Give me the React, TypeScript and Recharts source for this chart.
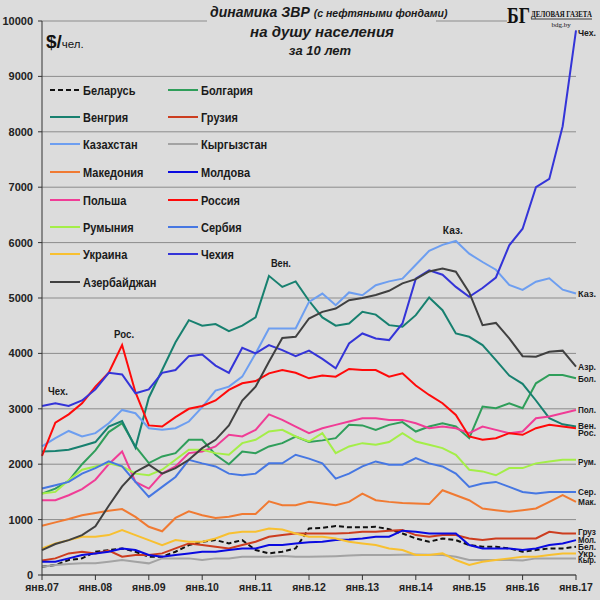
import React from "react";
import { LineChart, Line, XAxis, YAxis, CartesianGrid } from "recharts";

const MONTHS = [0, 3, 6, 9, 12, 15, 18, 21, 24, 27, 30, 33, 36, 39, 42, 45, 48, 51, 54, 57, 60, 63, 66, 69, 72, 75, 78, 81, 84, 87, 90, 93, 96, 99, 102, 105, 108, 111, 114, 117, 120];
const X_TICKS = [0, 12, 24, 36, 48, 60, 72, 84, 96, 108, 120];
const X_TICK_LABELS = ["янв.07", "янв.08", "янв.09", "янв.10", "янв.11", "янв.12", "янв.13", "янв.14", "янв.15", "янв.16", "янв.17"];
const Y_TICKS = [0, 1000, 2000, 3000, 4000, 5000, 6000, 7000, 8000, 9000, 10000];

const BELARUS = [150, 180, 270, 300, 420, 450, 480, 420, 330, 330, 420, 540, 600, 630, 570, 630, 450, 390, 420, 480, 840, 850, 885, 860, 860, 870, 825, 750, 660, 600, 660, 630, 540, 510, 510, 480, 420, 450, 480, 480, 510];
const BULGARIA = [1470, 1560, 1700, 2000, 2250, 2580, 2740, 2320, 2020, 2140, 2200, 2440, 2440, 2170, 2000, 2230, 2200, 2320, 2380, 2500, 2400, 2430, 2470, 2710, 2700, 2620, 2710, 2760, 2590, 2680, 2740, 2680, 2470, 3040, 3010, 3100, 3010, 3460, 3610, 3610, 3550];
const HUNGARY = [2230, 2240, 2260, 2330, 2400, 2680, 2780, 2300, 3200, 3700, 4200, 4600, 4500, 4530, 4400, 4500, 4650, 5400, 5200, 5300, 4950, 4650, 4500, 4540, 4750, 4700, 4510, 4480, 4690, 5010, 4780, 4360, 4300, 4150, 3880, 3600, 3450, 3150, 2830, 2720, 2680];
const GEORGIA = [260, 300, 390, 420, 390, 440, 330, 360, 360, 390, 480, 570, 540, 510, 480, 540, 600, 690, 720, 750, 750, 750, 750, 760, 780, 780, 800, 810, 720, 690, 720, 720, 660, 630, 660, 660, 660, 660, 780, 750, 750];
const KAZAKHSTAN = [2320, 2470, 2600, 2500, 2560, 2740, 2980, 2920, 2650, 2620, 2650, 2770, 3030, 3330, 3400, 3580, 4000, 4450, 4450, 4450, 4930, 5080, 4870, 5100, 5050, 5230, 5300, 5350, 5600, 5850, 5960, 6030, 5800, 5650, 5510, 5235, 5145, 5295, 5355, 5150, 5080];
const KYRGYZSTAN = [150, 180, 200, 210, 210, 240, 270, 240, 210, 300, 300, 300, 270, 300, 300, 330, 330, 330, 345, 330, 330, 335, 340, 350, 360, 360, 360, 365, 370, 365, 360, 330, 270, 270, 270, 270, 260, 300, 300, 300, 300];
const MACEDONIA = [890, 950, 1010, 1080, 1120, 1160, 1190, 1050, 870, 790, 1030, 1150, 1080, 1030, 1050, 1100, 1100, 1330, 1260, 1260, 1320, 1290, 1260, 1320, 1470, 1350, 1320, 1300, 1290, 1280, 1530, 1440, 1350, 1200, 1170, 1140, 1170, 1200, 1320, 1440, 1320];
const MOLDOVA = [240, 240, 300, 360, 390, 420, 480, 450, 360, 330, 360, 390, 420, 420, 450, 480, 480, 540, 540, 570, 590, 600, 630, 640, 660, 690, 690, 800, 780, 750, 750, 750, 540, 480, 480, 480, 450, 480, 540, 570, 630];
const POLAND = [1350, 1350, 1440, 1550, 1720, 2000, 2230, 1680, 1560, 1830, 1960, 2200, 2230, 2320, 2530, 2500, 2620, 2900, 2800, 2680, 2560, 2650, 2710, 2770, 2830, 2830, 2800, 2800, 2740, 2650, 2680, 2650, 2560, 2680, 2620, 2560, 2590, 2830, 2860, 2920, 2980];
const RUSSIA = [2150, 2750, 2900, 3100, 3400, 3650, 4150, 3300, 2700, 2680, 2850, 3000, 3050, 3150, 3340, 3460, 3500, 3640, 3700, 3650, 3550, 3600, 3580, 3720, 3700, 3700, 3580, 3640, 3420, 3250, 3100, 2890, 2500, 2440, 2470, 2560, 2530, 2650, 2710, 2680, 2650];
const ROMANIA = [1470, 1500, 1710, 1900, 1960, 2015, 1960, 1830, 1800, 1900, 2080, 2260, 2260, 2200, 2170, 2380, 2440, 2590, 2620, 2500, 2410, 2560, 2200, 2320, 2380, 2350, 2400, 2560, 2410, 2350, 2290, 2170, 1900, 1870, 1800, 1930, 1930, 2015, 2050, 2080, 2080];
const SERBIA = [1560, 1620, 1680, 1830, 1930, 2050, 1960, 1680, 1410, 1590, 1770, 2080, 2015, 1960, 1830, 1800, 1830, 2015, 2015, 2170, 2100, 2015, 1740, 1830, 1960, 2050, 1990, 1990, 2110, 2015, 1960, 1830, 1590, 1650, 1680, 1590, 1500, 1470, 1500, 1500, 1500];
const UKRAINE = [480, 570, 630, 690, 690, 720, 810, 720, 630, 540, 630, 600, 600, 660, 750, 780, 780, 840, 820, 750, 690, 690, 660, 600, 570, 540, 480, 450, 360, 360, 390, 270, 180, 240, 270, 300, 330, 330, 360, 390, 390];
const CZECH = [3050, 3100, 3050, 3150, 3350, 3650, 3620, 3280, 3350, 3650, 3700, 3950, 3980, 3780, 3650, 4100, 4000, 4150, 4060, 3950, 4050, 3900, 3730, 4180, 4360, 4270, 4240, 4540, 5350, 5500, 5420, 5200, 5020, 5180, 5370, 5950, 6250, 7000, 7150, 8100, 9830];
const AZERBAIJAN = [450, 560, 630, 720, 880, 1250, 1600, 1860, 1990, 1830, 1930, 2080, 2290, 2440, 2700, 3150, 3400, 3850, 4280, 4300, 4630, 4750, 4810, 4960, 5000, 5055, 5130, 5265, 5340, 5480, 5530, 5475, 5100, 4510, 4550, 4270, 3950, 3940, 4030, 4050, 3760];

type Peak = { index: number; text: string; dx: number; dy: number; anchor: string };
type Series = { key: string; name: string; color: string; values: number[]; end: string; endDy: number; dash?: string; peak?: Peak };

const SERIES: Series[] = [
  { key: "by", name: "Беларусь", color: "#111111", values: BELARUS, end: "Бел.", endDy: 0, dash: "5 3" },
  { key: "bg", name: "Болгария", color: "#2f9e5a", values: BULGARIA, end: "Бол.", endDy: 0 },
  { key: "hu", name: "Венгрия", color: "#17806f", values: HUNGARY, end: "Вен.", endDy: -1, peak: { index: 17, text: "Вен.", dx: 12, dy: -9, anchor: "middle" } },
  { key: "ge", name: "Грузия", color: "#cc3d1f", values: GEORGIA, end: "Груз", endDy: -2 },
  { key: "kz", name: "Казахстан", color: "#6d9ef0", values: KAZAKHSTAN, end: "Каз.", endDy: 0, peak: { index: 31, text: "Каз.", dx: -3, dy: -7, anchor: "middle" } },
  { key: "kg", name: "Кыргызстан", color: "#a3a3a3", values: KYRGYZSTAN, end: "Кыр.", endDy: 1 },
  { key: "mk", name: "Македония", color: "#f07a32", values: MACEDONIA, end: "Мак.", endDy: 0 },
  { key: "md", name: "Молдова", color: "#0a0ae0", values: MOLDOVA, end: "Мол.", endDy: -1 },
  { key: "pl", name: "Польша", color: "#f03c96", values: POLAND, end: "Пол.", endDy: 0 },
  { key: "ru", name: "Россия", color: "#ff0a0a", values: RUSSIA, end: "Рос.", endDy: 4, peak: { index: 6, text: "Рос.", dx: 2, dy: -7, anchor: "middle" } },
  { key: "ro", name: "Румыния", color: "#a4ee48", values: ROMANIA, end: "Рум.", endDy: 2 },
  { key: "rs", name: "Сербия", color: "#4677e2", values: SERBIA, end: "Сер.", endDy: 0 },
  { key: "ua", name: "Украина", color: "#f8c030", values: UKRAINE, end: "Укр.", endDy: 0 },
  { key: "cz", name: "Чехия", color: "#3434d8", values: CZECH, end: "Чех.", endDy: 2, peak: { index: 0, text: "Чех.", dx: 6, dy: -11, anchor: "start" } },
  { key: "az", name: "Азербайджан", color: "#404040", values: AZERBAIJAN, end: "Азр.", endDy: 0 },
];

const LEGEND_COL1 = ["by", "hu", "kz", "mk", "pl", "ro", "ua", "az"];
const LEGEND_COL2 = ["bg", "ge", "kg", "md", "ru", "rs", "cz"];

const BG = "#dcdcdc";
const FONT = "'Liberation Sans', Arial, sans-serif";

const DATA = MONTHS.map((m, i) => {
  const row: Record<string, number> = { m };
  SERIES.forEach((s) => {
    row[s.key] = s.values[i];
  });
  return row;
});

const makeLabel = (s: Series) => (props: any) => {
  const { x, y, index } = props;
  if (index === MONTHS.length - 1) {
    return (
      <text key={`e-${s.key}`} x={x + 2} y={y + 3.5 + s.endDy} fontSize={9.5} fontWeight="bold" fill="#1a1a1a" fontFamily={FONT} textLength={18} lengthAdjust="spacingAndGlyphs">
        {s.end}
      </text>
    );
  }
  if (s.peak && index === s.peak.index) {
    return (
      <text key={`p-${s.key}`} x={x + s.peak.dx} y={y + s.peak.dy} fontSize={10.5} fontWeight="bold" fill="#1a1a1a" fontFamily={FONT} textAnchor={s.peak.anchor as any} textLength={20} lengthAdjust="spacingAndGlyphs">
        {s.peak.text}
      </text>
    );
  }
  return <g key={`n-${s.key}-${index}`} />;
};

const LEGEND_ROWS = [90, 117, 144, 172, 200, 227, 254, 282];

function LegendItem({ k, x, y }: { k: string; x: number; y: number }) {
  const s = SERIES.find((q) => q.key === k)!;
  return (
    <g>
      <line x1={x} x2={x + 30} y1={y} y2={y} stroke={s.color} strokeWidth={2} strokeDasharray={s.dash} />
      <text transform={`translate(${x + 33},${y + 4.5}) scale(0.88,1)`} fontSize={12.5} fontWeight="bold" fill="#1a1a1a" fontFamily={FONT}>
        {s.name}
      </text>
    </g>
  );
}

export default function App() {
  return (
    <div style={{ position: "absolute", left: 0, top: 0, width: 600, height: 600, background: BG, overflow: "hidden" }}>
      <LineChart width={600} height={600} data={DATA} margin={{ top: 21, right: 24, left: 0, bottom: 0 }}>
        <CartesianGrid vertical={false} stroke="#8c8c8c" strokeWidth={1} />
        <XAxis
          dataKey="m"
          type="number"
          domain={[0, 120]}
          ticks={X_TICKS}
          tickFormatter={(v: number) => X_TICK_LABELS[X_TICKS.indexOf(v)]}
          height={25}
          tickSize={5}
          tickMargin={4}
          axisLine={{ stroke: "#333333" }}
          tickLine={{ stroke: "#333333" }}
          tick={{ fontSize: 10.5, fontWeight: "bold", fill: "#222222", fontFamily: FONT }}
          interval={0}
        />
        <YAxis
          domain={[0, 10000]}
          ticks={Y_TICKS}
          width={42}
          tickSize={4}
          tickMargin={5}
          axisLine={{ stroke: "#333333" }}
          tickLine={{ stroke: "#333333" }}
          tick={{ fontSize: 11, fontWeight: "bold", fill: "#222222", fontFamily: FONT }}
          interval={0}
        />
        {SERIES.map((s) => (
          <Line
            key={s.key}
            dataKey={s.key}
            name={s.name}
            stroke={s.color}
            strokeWidth={2}
            strokeDasharray={s.dash}
            dot={false}
            activeDot={false}
            isAnimationActive={false}
            type="linear"
            label={makeLabel(s)}
          />
        ))}
      </LineChart>
      <svg width={600} height={600} style={{ position: "absolute", left: 0, top: 0, pointerEvents: "none" }}>
        <rect x={207} y={0} width={229} height={60} fill={BG} />
        <rect x={507} y={0} width={93} height={30} fill={BG} />
        <text x={210} y={17} fontFamily={FONT} fontStyle="italic" fontWeight="bold" fill="#1a1a1a">
          <tspan fontSize={14}>динамика ЗВР </tspan>
          <tspan fontSize={10.5}>(с нефтяными  фондами)</tspan>
        </text>
        <text x={322} y={37} textAnchor="middle" fontSize={15} fontFamily={FONT} fontStyle="italic" fontWeight="bold" fill="#1a1a1a">
          на душу населения
        </text>
        <text x={320} y={55} textAnchor="middle" fontSize={13} fontFamily={FONT} fontStyle="italic" fontWeight="bold" fill="#1a1a1a">
          за 10 лет
        </text>
        <text x={507} y={23} fontSize={24} fontFamily="'Liberation Serif', serif" fontWeight="bold" fill="#111111" textLength={23} lengthAdjust="spacingAndGlyphs">
          БГ
        </text>
        <text x={531} y={17} fontSize={9} fontFamily="'Liberation Serif', serif" fontWeight="bold" fill="#111111" textLength={61} lengthAdjust="spacingAndGlyphs">
          ДЕЛОВАЯ ГАЗЕТА
        </text>
        <line x1={531} x2={592} y1={19} y2={19} stroke="#111111" strokeWidth={0.8} />
        <text x={561} y={27} textAnchor="middle" fontSize={7} fontFamily="'Liberation Serif', serif" fill="#111111">
          bdg.by
        </text>
        <text x={46} y={48} fontFamily={FONT} fill="#111111">
          <tspan fontSize={19} fontWeight="bold">$/</tspan>
          <tspan fontSize={11.5}>чел.</tspan>
        </text>
        {LEGEND_COL1.map((k, i) => (
          <LegendItem key={k} k={k} x={50} y={LEGEND_ROWS[i]} />
        ))}
        {LEGEND_COL2.map((k, i) => (
          <LegendItem key={k} k={k} x={168} y={LEGEND_ROWS[i]} />
        ))}
      </svg>
    </div>
  );
}
